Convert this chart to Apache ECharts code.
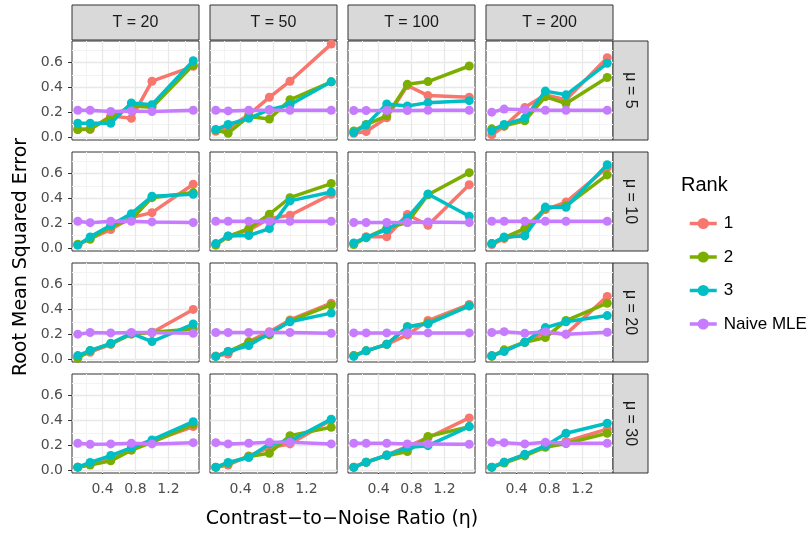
<!DOCTYPE html>
<html>
<head>
<meta charset="utf-8">
<script src="https://cdn.jsdelivr.net/npm/echarts@6/dist/echarts.min.js"></script>
<style>
  html, body { margin: 0; padding: 0; background: #fff; }
  #chart { width: 809px; height: 536px; }
</style>
</head>
<body>
<div id="chart"></div>
<script>
// facet grid: rows = mu, columns = T
const etaValues = [0.1, 0.25, 0.5, 0.75, 1.0, 1.5];
const tLabels = ['T = 20', 'T = 50', 'T = 100', 'T = 200'];
const muLabels = ['μ = 5', 'μ = 10', 'μ = 20', 'μ = 30'];
const rankNames = ['1', '2', '3', 'Naive MLE'];
const yTickValues = [0, 0.2, 0.4, 0.6];
const xTickValues = [0.4, 0.8, 1.2];
const yMinorBreaks = [0.1, 0.3, 0.5, 0.7];
const xMinorBreaks = [0.2, 0.6, 1.0, 1.4];

// one row per panel, order: mu=5 (T=20,50,100,200), mu=10 (...), mu=20, mu=30
const rank1 = [
  [0.06, 0.06, 0.17, 0.15, 0.45, 0.57],
  [0.045, 0.07, 0.18, 0.32, 0.45, 0.75],
  [0.03, 0.043, 0.155, 0.415, 0.334, 0.32],
  [0.016, 0.085, 0.237, 0.34, 0.30, 0.64],
  [0.027, 0.075, 0.148, 0.245, 0.285, 0.514],
  [0.03, 0.094, 0.143, 0.237, 0.264, 0.433],
  [0.035, 0.09, 0.09, 0.27, 0.183, 0.51],
  [0.027, 0.075, 0.115, 0.31, 0.37, 0.65],
  [0.02, 0.054, 0.118, 0.207, 0.213, 0.40],
  [0.024, 0.04, 0.14, 0.22, 0.315, 0.45],
  [0.027, 0.065, 0.118, 0.194, 0.31, 0.44],
  [0.027, 0.065, 0.135, 0.215, 0.20, 0.505],
  [0.022, 0.046, 0.10, 0.16, 0.23, 0.35],
  [0.022, 0.04, 0.113, 0.18, 0.21, 0.403],
  [0.022, 0.062, 0.12, 0.19, 0.26, 0.42],
  [0.022, 0.062, 0.12, 0.19, 0.23, 0.33]
];
const rank2 = [
  [0.06, 0.065, 0.16, 0.25, 0.24, 0.58],
  [0.055, 0.03, 0.165, 0.145, 0.30, 0.445],
  [0.048, 0.10, 0.17, 0.425, 0.447, 0.573],
  [0.065, 0.09, 0.13, 0.325, 0.27, 0.48],
  [0.03, 0.07, 0.175, 0.23, 0.406, 0.447],
  [0.022, 0.094, 0.156, 0.272, 0.406, 0.52],
  [0.027, 0.083, 0.16, 0.205, 0.43, 0.608],
  [0.035, 0.083, 0.156, 0.32, 0.34, 0.59],
  [0.005, 0.067, 0.121, 0.20, 0.215, 0.242],
  [0.02, 0.06, 0.135, 0.194, 0.307, 0.436],
  [0.027, 0.065, 0.118, 0.26, 0.29, 0.43],
  [0.02, 0.073, 0.135, 0.172, 0.31, 0.45],
  [0.022, 0.04, 0.073, 0.16, 0.223, 0.368],
  [0.02, 0.054, 0.108, 0.135, 0.277, 0.344],
  [0.022, 0.062, 0.115, 0.148, 0.27, 0.35],
  [0.02, 0.055, 0.113, 0.183, 0.213, 0.296]
];
const rank3 = [
  [0.11, 0.11, 0.11, 0.275, 0.26, 0.615],
  [0.06, 0.10, 0.15, 0.22, 0.26, 0.445],
  [0.035, 0.097, 0.266, 0.25, 0.277, 0.293],
  [0.05, 0.10, 0.15, 0.37, 0.34, 0.595],
  [0.022, 0.089, 0.183, 0.277, 0.417, 0.433],
  [0.035, 0.097, 0.10, 0.156, 0.38, 0.452],
  [0.04, 0.083, 0.148, 0.242, 0.436, 0.256],
  [0.035, 0.089, 0.097, 0.33, 0.328, 0.672],
  [0.027, 0.067, 0.126, 0.207, 0.14, 0.282],
  [0.02, 0.06, 0.108, 0.207, 0.30, 0.37],
  [0.02, 0.065, 0.118, 0.26, 0.283, 0.428],
  [0.025, 0.06, 0.135, 0.253, 0.30, 0.35],
  [0.022, 0.06, 0.116, 0.18, 0.242, 0.39],
  [0.022, 0.06, 0.10, 0.21, 0.234, 0.41],
  [0.02, 0.062, 0.12, 0.18, 0.196, 0.35],
  [0.022, 0.062, 0.126, 0.194, 0.296, 0.377]
];
const naiveMle = [
  [0.215, 0.215, 0.205, 0.21, 0.205, 0.215],
  [0.215, 0.21, 0.215, 0.215, 0.215, 0.215],
  [0.213, 0.213, 0.213, 0.213, 0.215, 0.215],
  [0.20, 0.225, 0.22, 0.215, 0.215, 0.215],
  [0.215, 0.204, 0.215, 0.215, 0.21, 0.205],
  [0.215, 0.215, 0.215, 0.215, 0.215, 0.215],
  [0.205, 0.205, 0.205, 0.205, 0.21, 0.205],
  [0.215, 0.215, 0.215, 0.215, 0.215, 0.215],
  [0.20, 0.213, 0.21, 0.213, 0.213, 0.207],
  [0.213, 0.213, 0.213, 0.213, 0.213, 0.207],
  [0.21, 0.21, 0.21, 0.21, 0.21, 0.21],
  [0.213, 0.22, 0.207, 0.22, 0.20, 0.215],
  [0.215, 0.207, 0.21, 0.215, 0.21, 0.22],
  [0.22, 0.21, 0.215, 0.223, 0.223, 0.21],
  [0.215, 0.215, 0.215, 0.21, 0.21, 0.207],
  [0.223, 0.22, 0.21, 0.223, 0.215, 0.215]
];

const seriesValues = [rank1, rank2, rank3, naiveMle];
const colors = ['#F8766D', '#7CAE00', '#00BFC4', '#C77CFF'];

const colLeft = [72, 210, 348, 486];
const rowTop = [41, 152, 263, 374];
const panelW = 127;
const panelH = 99;

const tickFont = 'DejaVu Sans';
const majorGrid = '#E8E8E8';
const minorGrid = '#F3F3F3';

// panel grid lines (ggplot major + minor breaks) as a silent markLine
function gridLines() {
  const data = [];
  yMinorBreaks.forEach(v => data.push({ yAxis: v, lineStyle: { color: minorGrid, width: 1, type: 'solid' } }));
  xMinorBreaks.forEach(v => data.push({ xAxis: v, lineStyle: { color: minorGrid, width: 1, type: 'solid' } }));
  yTickValues.forEach(v => data.push({ yAxis: v, lineStyle: { color: majorGrid, width: 1.3, type: 'solid' } }));
  xTickValues.forEach(v => data.push({ xAxis: v, lineStyle: { color: majorGrid, width: 1.3, type: 'solid' } }));
  return {
    silent: true, symbol: ['none', 'none'], z: 1, animation: false,
    label: { show: false }, emphasis: { disabled: true }, data: data
  };
}

const grids = [], xAxes = [], yAxes = [], series = [], graphics = [];

for (let p = 0; p < 16; p++) {
  const row = Math.floor(p / 4);
  const col = p % 4;
  grids.push({
    left: colLeft[col], top: rowTop[row], width: panelW, height: panelH,
    show: true, borderColor: '#333333', borderWidth: 1, backgroundColor: '#fff'
  });
  xAxes.push({
    type: 'value', gridIndex: p, min: 0.03, max: 1.57,
    axisLine: { show: false },
    axisTick: { show: row === 3, customValues: xTickValues, length: 4, lineStyle: { color: '#333333' } },
    axisLabel: {
      show: row === 3, customValues: xTickValues, margin: 9,
      color: '#4D4D4D', fontSize: 14, fontFamily: tickFont,
      formatter: v => v.toFixed(1)
    },
    splitLine: { show: false }
  });
  yAxes.push({
    type: 'value', gridIndex: p, min: -0.025, max: 0.775,
    axisLine: { show: false },
    axisTick: { show: col === 0, customValues: yTickValues, length: 4, lineStyle: { color: '#333333' } },
    axisLabel: {
      show: col === 0, customValues: yTickValues, margin: 9,
      color: '#4D4D4D', fontSize: 14, fontFamily: tickFont,
      formatter: v => v.toFixed(1)
    },
    splitLine: { show: false }
  });
  for (let s = 0; s < 4; s++) {
    const item = {
      name: rankNames[s],
      type: 'line',
      xAxisIndex: p,
      yAxisIndex: p,
      data: etaValues.map((x, i) => [x, seriesValues[s][p][i]]),
      symbol: 'circle',
      symbolSize: 9,
      showSymbol: true,
      color: colors[s],
      lineStyle: { width: 3.5, color: colors[s] },
      itemStyle: { color: colors[s] },
      emphasis: { disabled: true },
      z: 2 + s
    };
    if (s === 0) item.markLine = gridLines();
    series.push(item);
  }
}

// column strips
tLabels.forEach((t, c) => {
  graphics.push({
    type: 'rect', shape: { x: colLeft[c], y: 5, width: panelW, height: 35 },
    style: { fill: '#D9D9D9', stroke: '#333333', lineWidth: 1 }
  });
  graphics.push({
    type: 'text', x: colLeft[c] + panelW / 2, y: 23,
    style: { text: t, fill: '#1A1A1A', font: '16px "Liberation Sans"', align: 'center', verticalAlign: 'middle' }
  });
});
// row strips
muLabels.forEach((m, r) => {
  graphics.push({
    type: 'rect', shape: { x: colLeft[3] + panelW, y: rowTop[r], width: 35, height: panelH },
    style: { fill: '#D9D9D9', stroke: '#333333', lineWidth: 1 }
  });
  graphics.push({
    type: 'text', x: colLeft[3] + panelW + 17.5, y: rowTop[r] + panelH / 2, rotation: -Math.PI / 2,
    style: { text: m, fill: '#1A1A1A', font: '16px "Liberation Sans"', align: 'center', verticalAlign: 'middle' }
  });
});
// axis titles
graphics.push({
  type: 'text', x: 342, y: 519,
  style: { text: 'Contrast\u2212to\u2212Noise Ratio (\u03b7)', fill: '#000', font: '19px "DejaVu Sans"', align: 'center', verticalAlign: 'middle' }
});
graphics.push({
  type: 'text', x: 21, y: 257, rotation: Math.PI / 2,
  style: { text: 'Root Mean Squared Error', fill: '#000', font: '19px "DejaVu Sans"', align: 'center', verticalAlign: 'middle' }
});
// legend title
graphics.push({
  type: 'text', x: 681, y: 185,
  style: { text: 'Rank', fill: '#000', font: '20px "Liberation Sans"', align: 'left', verticalAlign: 'middle' }
});

const chart = echarts.init(document.getElementById('chart'));
chart.setOption({
  animation: false,
  backgroundColor: '#fff',
  grid: grids,
  xAxis: xAxes,
  yAxis: yAxes,
  series: series,
  graphic: graphics,
  legend: {
    data: rankNames,
    orient: 'vertical',
    left: 683,
    top: 210,
    itemWidth: 27,
    itemHeight: 14,
    itemGap: 16.5,
    selectedMode: false,
    lineStyle: { width: 3.5 },
    textStyle: { fontSize: 17, color: '#000', fontFamily: 'Liberation Sans', padding: [0, 0, 0, 2] }
  }
});
</script>
</body>
</html>
